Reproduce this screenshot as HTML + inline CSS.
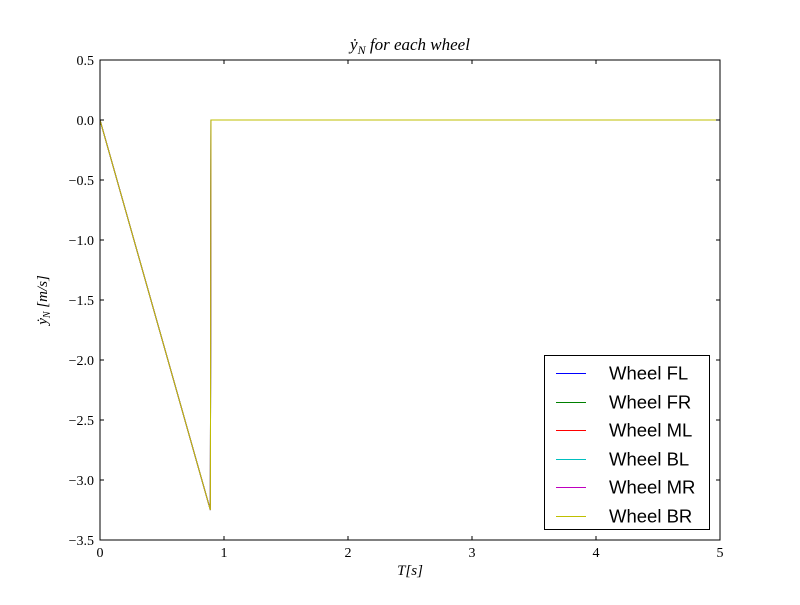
<!DOCTYPE html>
<html><head><meta charset="utf-8"><style>
body{margin:0;background:#fff}
svg text{font-family:"Liberation Serif","DejaVu Serif",serif}
</style></head><body>
<svg id="chart" width="800" height="600" xmlns="http://www.w3.org/2000/svg">
<rect x="0" y="0" width="800" height="600" fill="#fff"/>
<g id="plot"></g>
<rect x="100" y="60" width="620" height="480" fill="none" stroke="#000" stroke-width="1"/>
<g id="ticks"></g>
<text x="410" y="50" font-size="17" text-anchor="middle" font-style="italic">ẏ<tspan font-size="12" dy="4">N</tspan><tspan dy="-4"> for each wheel</tspan></text>
<text x="410" y="575" font-size="15" text-anchor="middle" font-style="italic">T[s]</text>
<text transform="translate(47,300) rotate(-90)" font-size="15" text-anchor="middle" font-style="italic">ẏ<tspan font-size="10" dy="3">N</tspan><tspan dy="-3"> [m/s]</tspan></text>
<g id="legend"></g>
</svg>
<script>
const xTicks=[0,1,2,3,4,5];
const yTicks=[0.5,0,-0.5,-1,-1.5,-2,-2.5,-3,-3.5];
const yTickLabels=["0.5","0.0","\u22120.5","\u22121.0","\u22121.5","\u22122.0","\u22122.5","\u22123.0","\u22123.5"];
const seriesNames=["Wheel FL","Wheel FR","Wheel ML","Wheel BL","Wheel MR","Wheel BR"];
const seriesColors=["#0000ff","#008000","#ff0000","#00bfbf","#bf00bf","#bfbf00"];
const tValues=[0,0.89,0.895,5];
const yValues=[0,-3.25,0,0];
const NS="http://www.w3.org/2000/svg";
const X=v=>100+(v-0)/5*620;
const Y=v=>60+(0.5-v)/4*480;
function mk(t,a,p){const e=document.createElementNS(NS,t);for(const k in a)e.setAttribute(k,a[k]);p.appendChild(e);return e;}
const plot=document.getElementById('plot');
seriesNames.forEach((n,i)=>{
 const pts=tValues.map((t,j)=>X(t)+','+Y(yValues[j])).join(' ');
 const l=mk('polyline',{points:pts,fill:'none',stroke:seriesColors[i],'stroke-width':1},plot);
 
 
});
const tk=document.getElementById('ticks');
xTicks.forEach(v=>{
 mk('line',{x1:X(v),x2:X(v),y1:540,y2:536,stroke:'#000'},tk);
 mk('line',{x1:X(v),x2:X(v),y1:60,y2:64,stroke:'#000'},tk);
 const t=mk('text',{x:X(v),y:557,'font-size':14,'text-anchor':'middle'},tk);t.textContent=v;
 
 
});
yTicks.forEach((v,i)=>{
 mk('line',{x1:100,x2:104,y1:Y(v),y2:Y(v),stroke:'#000'},tk);
 mk('line',{x1:716,x2:720,y1:Y(v),y2:Y(v),stroke:'#000'},tk);
 const t=mk('text',{x:94,y:Y(v)+5,'font-size':14,'text-anchor':'end'},tk);t.textContent=yTickLabels[i];
 
 
});
const lg=document.getElementById('legend');
const box=mk('rect',{x:544.5,y:355.5,width:165,height:174,fill:'#fff',stroke:'#000'},lg);


seriesNames.forEach((n,i)=>{
 const y=Math.round(373+i*28.5)+0.5;
 mk('line',{x1:556,x2:586,y1:y,y2:y,stroke:seriesColors[i],'stroke-width':1.2,'shape-rendering':'crispEdges'},lg);
 const t=mk('text',{x:609,y:y+6,'font-size':18.5},lg);
 t.style.fontFamily='"Liberation Sans",sans-serif';
 t.textContent=n;
 
 
});
</script>
</body></html>
